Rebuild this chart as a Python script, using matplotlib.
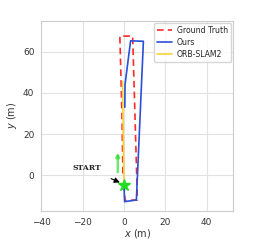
import matplotlib
matplotlib.use("Agg")
import matplotlib.pyplot as plt
import seaborn as sns

# trajectories (m)
gt_x = [0.0, 0.5, 6.5, 4.2, -2.0, -1.0, -0.5]
gt_y = [-4.5, -12.2, -12.0, 67.5, 67.5, 30.0, 0.0]

ours_x = [0.0, 0.3, 6.0, 9.4, 3.2, 0.5, 0.4]
ours_y = [-4.5, -12.8, -12.0, 65.0, 65.2, 44.0, 33.0]

orb_x = [-0.7, 0.0]
orb_y = [45.5, -3.0]

start = (0.0, -4.5)
arrow_x = -3.0
arrow_y = [1.5, 11.0]

sns.set_style("whitegrid")

fig = plt.figure(figsize=(2.74, 2.4), dpi=100)
ax = fig.add_axes([0.151, 0.122, 0.701, 0.792])

ax.plot(gt_x, gt_y, color="#ff2a2a", ls=(0, (4, 2.5)), lw=1.2, label="Ground Truth")
ax.plot(ours_x, ours_y, color="#2a4fd8", lw=1.2, label="Ours")
ax.plot(orb_x, orb_y, color="#f2d23a", lw=1.2, label="ORB-SLAM2")

ax.annotate("", xy=(arrow_x, arrow_y[1]), xytext=(arrow_x, arrow_y[0]),
            arrowprops=dict(arrowstyle="-|>", color="#33dd33", alpha=0.7, lw=1.8,
                            mutation_scale=5, shrinkA=0, shrinkB=0))
ax.plot(*start, marker="*", color="#22dd22", ms=9, zorder=5)
ax.annotate("START", xy=(-2.0, -3.5), xytext=(-18, 3.5),
            fontsize=5.5, fontweight="bold", family="DejaVu Serif",
            ha="center", va="center",
            arrowprops=dict(arrowstyle="-|>", color="black", lw=0.8,
                            mutation_scale=8, shrinkA=6, shrinkB=0))

ax.set_xlim(-40, 53)
ax.set_ylim(-17.2, 75)
ax.set_xticks([-40, -20, 0, 20, 40])
ax.set_yticks([0, 20, 40, 60])
ax.tick_params(labelsize=6.5, colors="#333333", pad=1.5)
ax.set_xlabel("$x$ (m)", fontsize=7, color="#333333", labelpad=0.5)
ax.set_ylabel("$y$ (m)", fontsize=7, color="#333333", labelpad=2.5)
for s in ax.spines.values():
    s.set_color("#cccccc")
ax.grid(color="#e2e2e2", lw=0.8)

ax.legend(loc="upper right", fontsize=5.6, frameon=True, handlelength=2.0,
          handletextpad=0.6, borderpad=0.4, labelspacing=0.35, borderaxespad=0.3)

fig.savefig("out.png", dpi=100)
